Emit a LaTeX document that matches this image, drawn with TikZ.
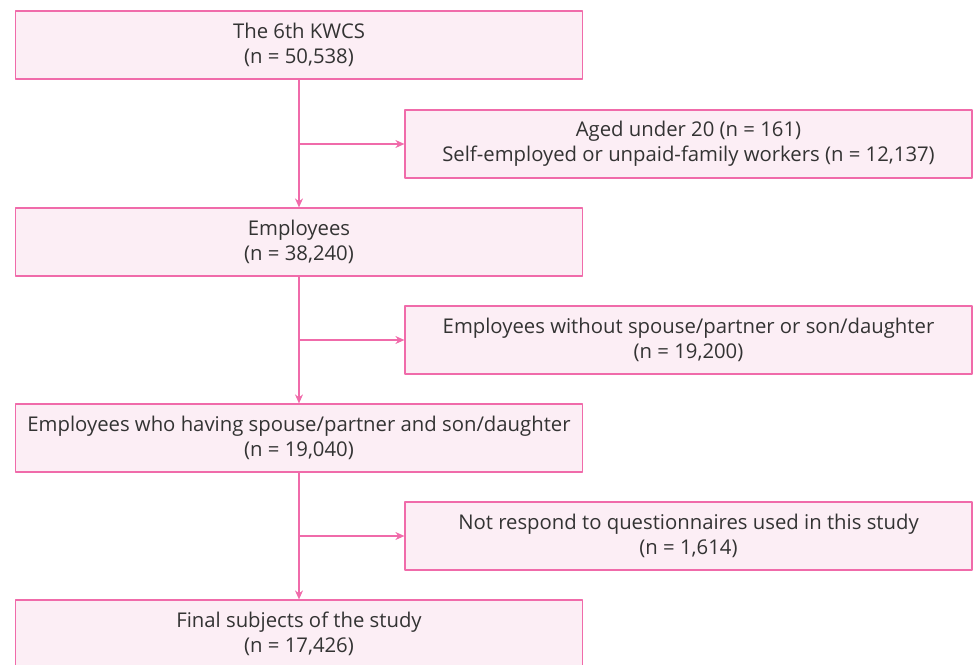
\documentclass[tikz,border=0pt]{standalone}
\usepackage{fontspec}
\setmainfont{Open Sans}
\usetikzlibrary{arrows.meta}
\definecolor{boxline}{HTML}{F06BAA}
\definecolor{boxfill}{HTML}{FCEEF5}
\definecolor{boxtext}{HTML}{333333}
\begin{document}
\begin{tikzpicture}[x=1pt,y=-1pt,line join=round,>={Stealth[length=9pt,width=8pt]},
  flowbox/.style={draw=boxline,fill=boxfill,line width=1.2pt,text=boxtext,align=center,
    minimum width=567pt,minimum height=68pt,inner sep=0pt,font=\fontsize{20.3}{25}\selectfont},
  flowline/.style={draw=boxline,line width=1.2pt}]
\useasboundingbox (0,0) rectangle (974,664);
\clip (0,0) rectangle (974,664);
\def \xl{299};
\def \xr{688.5};
\node[flowbox] (kwcs) at (\xl,45) {The 6th KWCS\\(n = 50,538)};
\node[flowbox] (excl1) at (\xr,144) {Aged under 20 (n = 161)\\Self-employed or unpaid-family workers (n = 12,137)};
\node[flowbox] (empl) at (\xl,242) {Employees\\(n = 38,240)};
\node[flowbox] (excl2) at (\xr,340) {Employees without spouse/partner or son/daughter\\(n = 19,200)};
\node[flowbox] (fam) at (\xl,438) {Employees who having spouse/partner and son/daughter\\(n = 19,040)};
\node[flowbox] (excl3) at (\xr,536) {Not respond to questionnaires used in this study\\(n = 1,614)};
\node[flowbox] (final) at (\xl,634) {Final subjects of the study\\(n = 17,426)};
% main stream
\foreach \a/\b in {kwcs/empl,empl/fam,fam/final}{\draw[flowline,->] (\a) -- (\b);}
% exclusions
\foreach \a/\b in {kwcs/excl1,empl/excl2,fam/excl3}{\draw[flowline,->] (\a.south |- \b) -- (\b);}
\end{tikzpicture}
\end{document}
